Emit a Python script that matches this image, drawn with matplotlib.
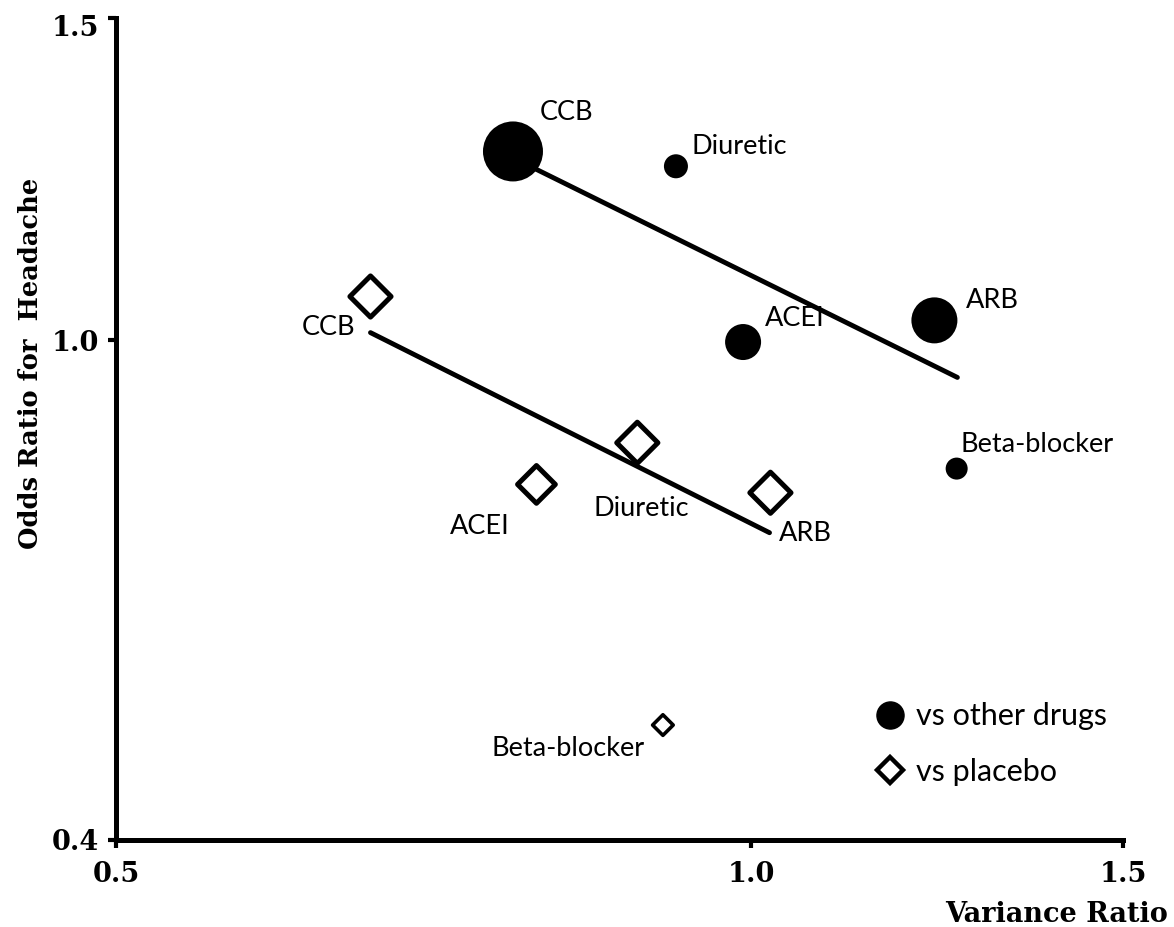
import numpy as np
import matplotlib
matplotlib.use("Agg")
import matplotlib.pyplot as plt
import matplotlib.transforms as mtransforms
from matplotlib.lines import Line2D
from matplotlib.ticker import FixedLocator, FixedFormatter, NullLocator

# ---------------- data ----------------
drugs_other = ["CCB", "Diuretic", "ACEI", "ARB", "Beta-blocker"]
other_var = [0.771, 0.921, 0.991, 1.221, 1.251]
other_or = [1.293, 1.270, 0.998, 1.031, 0.846]
other_weight = [1866, 299, 672, 1097, 251]

drugs_placebo = ["CCB", "ACEI", "Diuretic", "ARB", "Beta-blocker"]
placebo_var = [0.660, 0.791, 0.883, 1.021, 0.908]
placebo_or = [1.068, 0.827, 0.877, 0.817, 0.538]
placebo_weight = [440, 370, 440, 440, 110]

fit_other_x = [0.780, 1.252]
fit_other_y = [1.275, 0.9555]
fit_placebo_x = [0.660, 1.020]
fit_placebo_y = [1.012, 0.769]

x_ticks = [0.5, 1.0, 1.5]
x_ticklabels = ["0.5", "1.0", "1.5"]
y_ticks = [0.4, 1.0, 1.5]
y_ticklabels = ["0.4", "1.0", "1.5"]

# label offsets (points) for annotations
other_offsets = [(19, 28), (11, 14), (16, 17), (23, 14), (3, 17)]
other_ha = ["left", "left", "left", "left", "left"]
placebo_offsets = [(-11, -22), (-19, -30), (3, -47), (6, -29), (-13, -17)]
placebo_ha = ["right", "right", "center", "left", "right"]

# ---------------- figure ----------------
fig = plt.figure(figsize=(11.74, 9.27), dpi=100)
ax = fig.add_axes([0.0988, 0.0939, 0.9566 - 0.0988, 0.9806 - 0.0939])


def fwd(v):
    v = np.asarray(v, dtype=float)
    return np.where(v < 1.0, (v - 1.0) * 499 / 0.6, (v - 1.0) * 322 / 0.5)


def inv(u):
    u = np.asarray(u, dtype=float)
    return np.where(u < 0.0, 1.0 + u * 0.6 / 499, 1.0 + u * 0.5 / 322)


ax.set_xscale("log")
ax.set_yscale("function", functions=(fwd, inv))
ax.set_xlim(0.5, 1.5)
ax.set_ylim(0.4, 1.5)

ax.plot(fit_other_x, fit_other_y, color="black", lw=3.5, solid_capstyle="round", zorder=2)
ax.plot(fit_placebo_x, fit_placebo_y, color="black", lw=3.5, solid_capstyle="round", zorder=2)

ax.scatter(other_var, other_or, s=other_weight, color="black", marker="o", zorder=3, linewidths=0)
lws = [3.6 if w > 200 else 2.6 for w in placebo_weight]
ax.scatter(placebo_var, placebo_or, s=placebo_weight, facecolor="white", edgecolor="black",
           marker="D", linewidths=lws, zorder=3)

lab_font = dict(family="Lato", fontsize=19.5, color="black")
for name, xv, yv, off, ha in zip(drugs_other, other_var, other_or, other_offsets, other_ha):
    ax.annotate(name, (xv, yv), xytext=off, textcoords="offset points", ha=ha, va="center", **lab_font)
for name, xv, yv, off, ha in zip(drugs_placebo, placebo_var, placebo_or, placebo_offsets, placebo_ha):
    ax.annotate(name, (xv, yv), xytext=off, textcoords="offset points", ha=ha, va="center", **lab_font)

# axes styling
for s in ["top", "right"]:
    ax.spines[s].set_visible(False)
for s in ["left", "bottom"]:
    ax.spines[s].set_linewidth(3.6)

ax.xaxis.set_major_locator(FixedLocator(x_ticks))
ax.xaxis.set_major_formatter(FixedFormatter(x_ticklabels))
ax.xaxis.set_minor_locator(NullLocator())
ax.yaxis.set_major_locator(FixedLocator(y_ticks))
ax.yaxis.set_major_formatter(FixedFormatter(y_ticklabels))
ax.yaxis.set_minor_locator(NullLocator())
ax.tick_params(axis="both", direction="out", length=6, width=3)
ax.tick_params(axis="x", pad=9)
ax.tick_params(axis="y", pad=6)
for lab in ax.get_xticklabels() + ax.get_yticklabels():
    lab.set_fontfamily("DejaVu Serif")
    lab.set_fontweight("bold")
    lab.set_fontsize(19.5)
# top y tick label sits a little below the axis end
top_lab = ax.get_yticklabels()[-1]
top_lab.set_transform(top_lab.get_transform() +
                      mtransforms.ScaledTranslation(0, -8 / 100, fig.dpi_scale_trans))

fig.text(0.995, 0.013, "Variance Ratio", ha="right", va="center", family="DejaVu Serif",
         weight="bold", fontsize=19.5)
fig.text(0.026, 0.608, "Odds Ratio for  Headache", ha="center", va="center", rotation=90,
         family="DejaVu Serif", weight="bold", fontsize=18.5)

handles = [
    Line2D([], [], marker="o", color="black", ls="", markersize=19.5),
    Line2D([], [], marker="D", markerfacecolor="white", markeredgecolor="black", markeredgewidth=3.2,
           ls="", markersize=13.5),
]
ax.legend(handles, ["vs other drugs", "vs placebo"], loc="center left", bbox_to_anchor=(0.7537, 0.1168),
          frameon=False, prop=dict(family="Lato", size=22), handlelength=1.0, handletextpad=0.33,
          labelspacing=0.9, borderaxespad=0, borderpad=0)

fig.savefig("out.png", dpi=100)
